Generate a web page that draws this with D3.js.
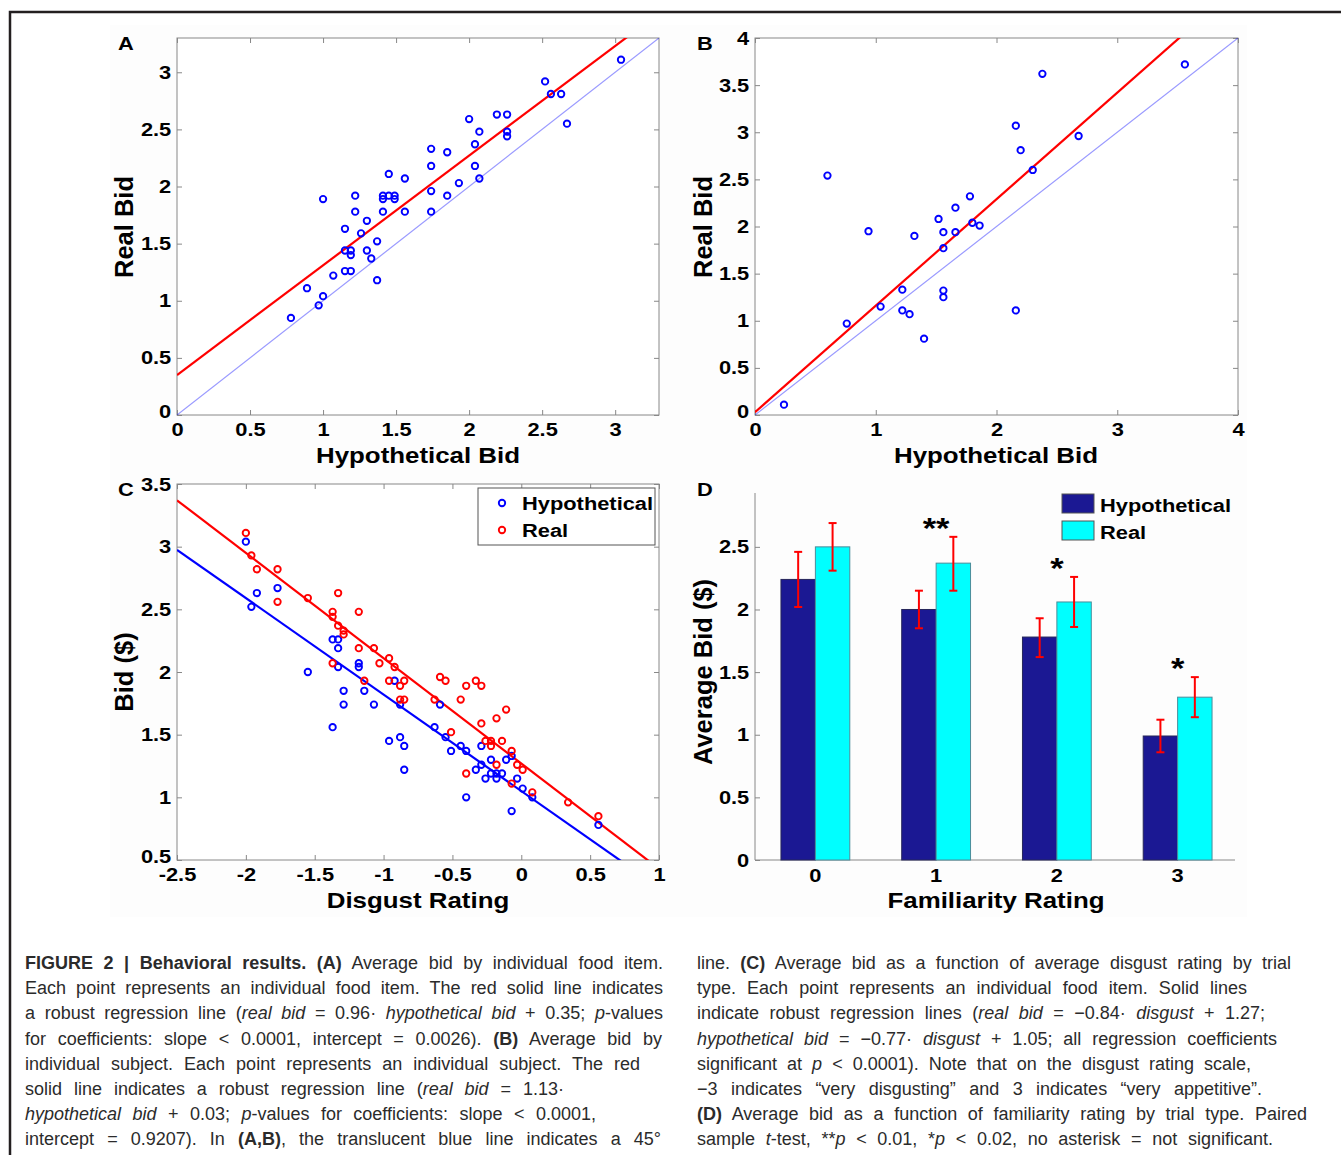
<!DOCTYPE html>
<html>
<head>
<meta charset="utf-8">
<script src="https://cdn.jsdelivr.net/npm/d3@7"></script>
<style>
body { margin: 0; background: #fff; }
svg text { font-family: "Liberation Sans", Arial, sans-serif; }
.cap text { font-family: "Liberation Sans", Arial, sans-serif; white-space: pre; }
</style>
</head>
<body>
<div id="fig"></div>
<script>
// Panel A: average bid per food item
const aHyp  = [0.78,0.89,0.97,1.00,1.00,1.07,1.15,1.15,1.15,1.19,1.19,1.19,1.22,1.22,1.26,1.30,1.30,1.33,1.37,1.37,1.41,1.41,1.41,1.45,1.45,1.49,1.49,1.56,1.56,1.74,1.74,1.74,1.74,1.85,1.85,1.93,2.00,2.04,2.04,2.07,2.07,2.19,2.26,2.26,2.26,2.52,2.56,2.63,2.67,3.04];
const aReal = [0.85,1.11,0.96,1.04,1.89,1.22,1.63,1.44,1.26,1.44,1.40,1.26,1.92,1.78,1.59,1.70,1.44,1.37,1.52,1.18,1.92,1.89,1.78,2.11,1.92,1.92,1.89,2.07,1.78,2.33,2.18,1.96,1.78,2.30,1.92,2.03,2.59,2.37,2.18,2.48,2.07,2.63,2.63,2.48,2.44,2.92,2.81,2.81,2.55,3.11];
const aFit = [0.96, 0.35];

// Panel B: average bid per subject
const bHyp  = [0.24,0.60,0.76,0.94,1.04,1.22,1.22,1.28,1.32,1.40,1.52,1.56,1.56,1.56,1.56,1.66,1.66,1.78,1.80,1.86,2.16,2.16,2.20,2.30,2.38,2.68,3.56];
const bReal = [0.11,2.54,0.97,1.95,1.15,1.33,1.11,1.07,1.90,0.81,2.08,1.94,1.77,1.32,1.25,2.20,1.94,2.32,2.04,2.01,3.07,1.11,2.81,2.60,3.62,2.96,3.72];
const bFit = [1.13, 0.03];

// Panel C: bid vs disgust rating
const cHypX  = [-2.00,-1.96,-1.92,-1.77,-1.55,-1.37,-1.37,-1.33,-1.33,-1.33,-1.29,-1.29,-1.18,-1.18,-1.14,-1.07,-0.96,-0.92,-0.88,-0.88,-0.85,-0.85,-0.63,-0.59,-0.55,-0.51,-0.44,-0.40,-0.40,-0.33,-0.29,-0.29,-0.26,-0.22,-0.22,-0.18,-0.18,-0.14,-0.11,-0.07,-0.07,-0.03,0.01,0.08,0.56];
const cHypY  = [3.04,2.52,2.63,2.67,2.00,1.56,2.26,2.26,2.19,2.04,1.85,1.74,2.07,2.04,1.85,1.74,1.45,1.93,1.48,1.74,1.41,1.22,1.56,1.74,1.48,1.37,1.41,1.37,1.00,1.22,1.41,1.26,1.15,1.30,1.19,1.19,1.15,1.19,1.30,1.33,0.89,1.15,1.07,1.00,0.78];
const cRealX = [-2.00,-1.96,-1.92,-1.77,-1.77,-1.55,-1.37,-1.37,-1.37,-1.33,-1.33,-1.29,-1.29,-1.18,-1.18,-1.14,-1.07,-1.03,-0.96,-0.96,-0.92,-0.88,-0.88,-0.85,-0.85,-0.63,-0.59,-0.55,-0.51,-0.44,-0.40,-0.40,-0.33,-0.29,-0.29,-0.26,-0.22,-0.22,-0.18,-0.18,-0.14,-0.11,-0.07,-0.07,-0.03,0.01,0.08,0.34,0.56];
const cRealY = [3.11,2.93,2.82,2.82,2.56,2.59,2.48,2.44,2.07,2.63,2.37,2.33,2.30,2.48,2.19,1.93,2.19,2.07,2.11,1.93,2.04,1.89,1.78,1.93,1.78,1.78,1.96,1.93,1.52,1.78,1.89,1.19,1.93,1.89,1.59,1.45,1.45,1.41,1.26,1.63,1.45,1.70,1.37,1.11,1.26,1.22,1.04,0.96,0.85];
const cFitReal = [-0.84, 1.27];
const cFitHyp  = [-0.77, 1.05];

// Panel D: bid by familiarity rating
const dCats    = ["0", "1", "2", "3"];
const dHyp     = [2.24, 2.00, 1.78, 0.99];
const dHypLo   = [2.02, 1.85, 1.62, 0.86];
const dHypHi   = [2.46, 2.15, 1.93, 1.12];
const dReal    = [2.50, 2.37, 2.06, 1.30];
const dRealLo  = [2.31, 2.15, 1.86, 1.14];
const dRealHi  = [2.69, 2.58, 2.26, 1.46];
const dStars   = ["", "**", "*", "*"];

const ticksHalf = (a, b) => d3.range(a, b + 0.001, 0.5);

const W = 1341, H = 1155, SX = 1.15;
const blue = "#0000ff", red = "#ff0000", axisCol = "#888";

let svg = d3.select("#fig").append("svg")
	.attr("width", W).attr("height", H);

svg.append("rect").attr("x", 110).attr("y", 25).attr("width", 1137).attr("height", 892).attr("fill", "#fdfdfd");

// frame
svg.append("path").attr("d", "M10,1155 V12 H1341")
	.attr("fill", "none").attr("stroke", "#231f20").attr("stroke-width", 2.5);

// bold, slightly stretched label
let label = function(x, y, txt, size, anchor, rot) {
	return svg.append("text")
		.attr("transform", "translate(" + x + "," + y + ")" + (rot ? " rotate(-90)" : " scale(" + SX + ",1)"))
		.attr("text-anchor", anchor || "middle")
		.attr("font-size", size)
		.attr("font-weight", "bold")
		.text(txt);
}

let styleAxis = function(g) {
	g.select(".domain").remove();
	g.selectAll("line").attr("stroke", axisCol);
	g.selectAll("text").attr("font-size", 19).attr("font-weight", "bold").attr("fill", "#000")
		.attr("transform", "scale(" + SX + ",1)");
}

let scatterPanel = function(id, l, r, t, b, xd, yd, xt, yt) {
	let x = d3.scaleLinear().domain(xd).range([l, r]);
	let y = d3.scaleLinear().domain(yd).range([b, t]);
	let g = svg.append("g");
	svg.append("clipPath").attr("id", id).append("rect")
		.attr("x", l).attr("y", t).attr("width", r - l).attr("height", b - t);
	g.append("rect").attr("x", l).attr("y", t).attr("width", r - l).attr("height", b - t)
		.attr("fill", "#fff").attr("stroke", axisCol);
	g.append("g").attr("transform", "translate(0," + b + ")")
		.call(d3.axisBottom(x).tickValues(xt).tickFormat(d => String(d)).tickSizeInner(-5).tickSizeOuter(0).tickPadding(8))
		.call(styleAxis);
	let yAx = g.append("g").attr("transform", "translate(" + l + ",0)")
		.call(d3.axisLeft(y).tickValues(yt).tickFormat(d => String(d)).tickSizeInner(-5).tickSizeOuter(0).tickPadding(5))
		.call(styleAxis);
	// lowest y label sits a little higher so it clears the first x label
	yAx.selectAll(".tick").filter(d => d == yd[0]).select("text").attr("y", -4);
	g.append("g").attr("transform", "translate(0," + t + ")")
		.call(d3.axisTop(x).tickValues(xt).tickFormat("").tickSizeInner(-5).tickSizeOuter(0))
		.call(styleAxis);
	g.append("g").attr("transform", "translate(" + r + ",0)")
		.call(d3.axisRight(y).tickValues(yt).tickFormat("").tickSizeInner(-5).tickSizeOuter(0))
		.call(styleAxis);
	let plot = g.append("g").attr("clip-path", "url(#" + id + ")");
	return {x: x, y: y, plot: plot};
}

let fitLine = function(p, fit, xd, col, w, op) {
	let line = d3.line().x(d => p.x(d)).y(d => p.y(fit[0] * d + fit[1]));
	p.plot.append("path").datum(xd).attr("d", line)
		.attr("fill", "none").attr("stroke", col).attr("stroke-width", w).attr("stroke-opacity", op || 1);
}

let dots = function(p, xs, ys, col) {
	p.plot.selectAll(null).data(xs).enter().append("circle")
		.attr("cx", d => p.x(d))
		.attr("cy", (d, i) => p.y(ys[i]))
		.attr("r", 3.2)
		.attr("fill", "none").attr("stroke", col).attr("stroke-width", 1.9);
}

// ---- A
let pA = scatterPanel("clipA", 177, 659, 38, 415, [0, 3.3], [0, 3.3], ticksHalf(0, 3), ticksHalf(0, 3));
fitLine(pA, aFit, [0, 3.3], red, 2.2);
fitLine(pA, [1, 0], [0, 3.3], blue, 1.2, 0.4);
dots(pA, aHyp, aReal, blue);
label(126, 50, "A", 19);
label(418, 463, "Hypothetical Bid", 22.5);
label(133, 227, "Real Bid", 25.5, "middle", true);

// ---- B
let pB = scatterPanel("clipB", 755, 1238, 38, 415, [0, 4], [0, 4], [0, 1, 2, 3, 4], ticksHalf(0, 4));
fitLine(pB, bFit, [0, 4], red, 2.2);
fitLine(pB, [1, 0], [0, 4], blue, 1.2, 0.4);
dots(pB, bHyp, bReal, blue);
label(705, 50, "B", 19);
label(996, 463, "Hypothetical Bid", 22.5);
label(712, 227, "Real Bid", 25.5, "middle", true);

// ---- C
let pC = scatterPanel("clipC", 177, 659, 484, 860, [-2.5, 1], [0.5, 3.5], ticksHalf(-2.5, 1), ticksHalf(0.5, 3.5));
fitLine(pC, cFitReal, [-2.5, 1], red, 2.2);
fitLine(pC, cFitHyp, [-2.5, 1], blue, 2.2);
dots(pC, cHypX, cHypY, blue);
dots(pC, cRealX, cRealY, red);
label(126, 496, "C", 19);
label(418, 908, "Disgust Rating", 22.5);
label(133, 672, "Bid ($)", 25.5, "middle", true);

let legC = svg.append("g");
legC.append("rect").attr("x", 478).attr("y", 488).attr("width", 177).attr("height", 57)
	.attr("fill", "#fff").attr("stroke", "#555");
[["Hypothetical", blue], ["Real", red]].forEach(function(s, i) {
	legC.append("circle").attr("cx", 502).attr("cy", 503 + i * 27).attr("r", 3.2)
		.attr("fill", "none").attr("stroke", s[1]).attr("stroke-width", 1.9);
	label(522, 510 + i * 27, s[0], 19, "start");
});

// ---- D
let xD = d3.scaleBand().domain(dCats).range([755, 1238]).paddingInner(0.43).paddingOuter(0.215);
let xSub = d3.scaleBand().domain(["hyp", "real"]).range([0, xD.bandwidth()]);
let yD = d3.scaleLinear().domain([0, 2.93]).range([860, 493]);
let gD = svg.append("g");
gD.append("g").attr("transform", "translate(0,860)")
	.call(d3.axisBottom(xD).tickSize(0).tickPadding(9))
	.call(styleAxis);
gD.append("g").attr("transform", "translate(755,0)")
	.call(d3.axisLeft(yD).tickValues(ticksHalf(0, 2.5)).tickFormat(d => String(d)).tickSizeInner(-5).tickSizeOuter(0).tickPadding(5))
	.call(styleAxis);
gD.append("line").attr("x1", 755).attr("x2", 1235).attr("y1", 860).attr("y2", 860).attr("stroke", axisCol);
gD.append("line").attr("x1", 755).attr("x2", 755).attr("y1", 493).attr("y2", 860).attr("stroke", axisCol);

let seriesD = [
	{key: "hyp", vals: dHyp, lo: dHypLo, hi: dHypHi, fill: "#1b1893", edge: "#26265a"},
	{key: "real", vals: dReal, lo: dRealLo, hi: dRealHi, fill: "#00ffff", edge: "#4a8c9a"}
];
seriesD.forEach(function(s) {
	let bw = xSub.bandwidth();
	gD.selectAll(null).data(dCats).enter().append("rect")
		.attr("x", d => xD(d) + xSub(s.key))
		.attr("y", (d, i) => yD(s.vals[i]))
		.attr("width", bw)
		.attr("height", (d, i) => yD(0) - yD(s.vals[i]))
		.attr("fill", s.fill).attr("stroke", s.edge).attr("stroke-width", 1);
	let eb = gD.selectAll(null).data(dCats).enter().append("g")
		.attr("transform", d => "translate(" + (xD(d) + xSub(s.key) + bw / 2) + ",0)");
	eb.append("line").attr("y1", (d, i) => yD(s.lo[i])).attr("y2", (d, i) => yD(s.hi[i]));
	eb.append("line").attr("x1", -4).attr("x2", 4).attr("y1", (d, i) => yD(s.lo[i])).attr("y2", (d, i) => yD(s.lo[i]));
	eb.append("line").attr("x1", -4).attr("x2", 4).attr("y1", (d, i) => yD(s.hi[i])).attr("y2", (d, i) => yD(s.hi[i]));
	eb.selectAll("line").attr("stroke", red).attr("stroke-width", 2);
});
dCats.forEach(function(c, i) {
	if (dStars[i]) label(xD(c) + xD.bandwidth() / 2, yD(dRealHi[i]) + 1, dStars[i], 30);
});
label(705, 496, "D", 19);
label(996, 908, "Familiarity Rating", 22.5);
label(712, 672, "Average Bid ($)", 25.5, "middle", true);

let legD = svg.append("g");
[["Hypothetical", seriesD[0]], ["Real", seriesD[1]]].forEach(function(s, i) {
	legD.append("rect").attr("x", 1062).attr("y", 494 + i * 27).attr("width", 32).attr("height", 19)
		.attr("fill", s[1].fill).attr("stroke", "#555");
	label(1100, 512 + i * 27, s[0], 19, "start");
});

// ---- caption
const capLeft = [
	[["FIGURE 2 | Behavioral results.", "b"], [" ", ""], ["(A)", "b"], [" Average bid by individual food item.", ""]],
	[["Each point represents an individual food item. The red solid line indicates", ""]],
	[["a robust regression line (", ""], ["real bid", "i"], [" = 0.96· ", ""], ["hypothetical bid", "i"], [" + 0.35; ", ""], ["p", "i"], ["-values", ""]],
	[["for coefficients: slope < 0.0001, intercept = 0.0026). ", ""], ["(B)", "b"], [" Average bid by", ""]],
	[["individual subject. Each point represents an individual subject. The red", ""]],
	[["solid line indicates a robust regression line (", ""], ["real bid", "i"], [" = 1.13·", ""]],
	[["hypothetical bid", "i"], [" + 0.03; ", ""], ["p", "i"], ["-values for coefficients: slope < 0.0001,", ""]],
	[["intercept = 0.9207). In ", ""], ["(A,B)", "b"], [", the translucent blue line indicates a 45°", ""]]
];
const capLeftEnd = [663, 663, 663, 662, 640, 564, 596, 661];
const capRight = [
	[["line. ", ""], ["(C)", "b"], [" Average bid as a function of average disgust rating by trial", ""]],
	[["type. Each point represents an individual food item. Solid lines", ""]],
	[["indicate robust regression lines (", ""], ["real bid", "i"], [" = −0.84· ", ""], ["disgust", "i"], [" + 1.27;", ""]],
	[["hypothetical bid", "i"], [" = −0.77· ", ""], ["disgust", "i"], [" + 1.05; all regression coefficients", ""]],
	[["significant at ", ""], ["p", "i"], [" < 0.0001). Note that on the disgust rating scale,", ""]],
	[["−3 indicates “very disgusting” and 3 indicates “very appetitive”.", ""]],
	[["(D)", "b"], [" Average bid as a function of familiarity rating by trial type. Paired", ""]],
	[["sample ", ""], ["t", "i"], ["-test, **", ""], ["p", "i"], [" < 0.01, *", ""], ["p", "i"], [" < 0.02, no asterisk = not significant.", ""]]
];
const capRightEnd = [1291, 1247, 1265, 1277, 1251, 1262, 1307, 1273];

let cap = svg.append("g").attr("class", "cap");
let capLine = function(x, y, segs, end) {
	let t = cap.append("text").attr("x", x).attr("y", y).attr("font-size", 18)
		.attr("fill", "#2b2b2b");
	segs.forEach(function(s) {
		t.append("tspan")
			.attr("font-weight", s[1] == "b" ? "bold" : null)
			.attr("font-style", s[1] == "i" ? "italic" : null)
			.text(s[0]);
	});
	let nat = t.node().getComputedTextLength();
	let spaces = (segs.map(s => s[0]).join("").match(/ /g) || []).length;
	if (spaces) t.attr("word-spacing", (end - x - nat) / spaces);
}
capLeft.forEach((segs, i) => capLine(25, 969 + i * 25.2, segs, capLeftEnd[i]));
capRight.forEach((segs, i) => capLine(697, 969 + i * 25.2, segs, capRightEnd[i]));
</script>
</body>
</html>
